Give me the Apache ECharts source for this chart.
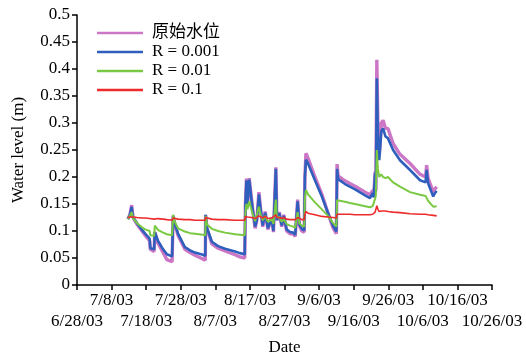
<!DOCTYPE html>
<html>
<head>
<meta charset="utf-8">
<script src="https://cdn.jsdelivr.net/npm/echarts@6/dist/echarts.min.js"></script>
<style>html,body{margin:0;padding:0;background:#fff}#c{width:526px;height:359px}</style>
</head>
<body>
<div id="c"></div>
<script>
// Days since 6/28/03
const days = [
14.7,15.3,15.8,16.2,17.3,18.8,19.7,21.0,21.2,22.3,22.5,23.4,24.9,26.0,27.5,
27.8,28.2,29.2,31.2,32.7,34.1,36.4,37.1,
37.2,37.6,39.0,40.8,42.8,45.7,47.1,48.5,
48.7,49.0,49.3,49.8,50.5,51.0,51.5,52.0,52.6,53.1,53.7,54.4,55.2,56.3,56.8,57.5,57.8,58.5,59.2,59.8,60.6,61.6,62.5,63.1,63.8,64.3,65.0,65.7,
65.9,66.2,66.8,68.8,70.8,72.6,74.0,75.0,
75.2,75.5,77.5,78.9,80.4,83.3,84.7,85.5,85.8,86.2,86.4,86.7,87.0,87.4,88.0,88.5,89.2,89.9,91.4,93.4,96.3,99.2,100.8,101.1,101.5,103.0,103.5,104.0
];
const rawLevel = [
0.122,0.130,0.148,0.125,0.113,0.100,0.092,0.082,0.066,0.062,0.098,0.078,0.060,0.047,0.043,
0.128,0.115,0.092,0.066,0.060,0.055,0.048,0.046,
0.130,0.105,0.076,0.068,0.063,0.056,0.052,0.050,
0.150,0.197,0.150,0.198,0.157,0.130,0.105,0.120,0.172,0.140,0.108,0.136,0.103,0.125,0.098,0.218,0.120,0.135,0.108,0.130,0.100,0.095,0.095,0.090,0.158,0.110,0.100,0.098,
0.200,0.244,0.235,0.200,0.168,0.133,0.106,0.095,
0.224,0.202,0.193,0.188,0.183,0.172,0.167,0.175,0.165,0.210,0.175,0.417,0.300,0.240,0.300,0.305,0.290,0.290,0.262,0.242,0.225,0.205,0.200,0.222,0.198,0.172,0.178,0.182
];
const r0001 = [
0.122,0.130,0.145,0.125,0.115,0.102,0.095,0.086,0.068,0.066,0.098,0.082,0.066,0.057,0.053,
0.128,0.115,0.095,0.070,0.064,0.060,0.056,0.054,
0.130,0.105,0.080,0.072,0.067,0.062,0.059,0.057,
0.150,0.194,0.150,0.195,0.155,0.130,0.108,0.120,0.168,0.140,0.110,0.134,0.105,0.123,0.100,0.215,0.120,0.133,0.110,0.128,0.103,0.098,0.097,0.093,0.155,0.112,0.104,0.101,
0.200,0.232,0.225,0.194,0.164,0.133,0.110,0.099,
0.215,0.196,0.187,0.182,0.177,0.166,0.161,0.170,0.162,0.207,0.172,0.383,0.280,0.231,0.285,0.290,0.275,0.272,0.250,0.231,0.213,0.194,0.190,0.213,0.189,0.164,0.170,0.174
];
const r001 = [
0.122,0.128,0.135,0.124,0.115,0.107,0.103,0.100,0.092,0.091,0.110,0.102,0.097,0.094,0.092,
0.130,0.118,0.105,0.099,0.096,0.095,0.093,0.092,
0.128,0.112,0.104,0.100,0.097,0.094,0.093,0.092,
0.135,0.150,0.140,0.155,0.138,0.127,0.118,0.120,0.145,0.130,0.120,0.128,0.117,0.122,0.113,0.158,0.125,0.126,0.117,0.122,0.113,0.110,0.108,0.106,0.135,0.114,0.110,0.108,
0.160,0.176,0.168,0.153,0.140,0.128,0.115,0.108,
0.157,0.157,0.154,0.152,0.150,0.146,0.144,0.146,0.145,0.160,0.165,0.250,0.215,0.200,0.205,0.200,0.198,0.200,0.190,0.182,0.172,0.167,0.165,0.168,0.156,0.145,0.147,0.146
];
const r01 = [
0.125,0.126,0.128,0.126,0.125,0.124,0.124,0.123,0.123,0.122,0.124,0.123,0.122,0.121,0.120,
0.124,0.122,0.122,0.121,0.121,0.120,0.120,0.120,
0.125,0.123,0.122,0.121,0.121,0.120,0.120,0.120,
0.127,0.128,0.126,0.128,0.125,0.124,0.123,0.124,0.128,0.126,0.124,0.127,0.123,0.124,0.122,0.130,0.125,0.125,0.123,0.125,0.122,0.121,0.121,0.121,0.125,0.122,0.121,0.121,
0.130,0.136,0.133,0.130,0.127,0.126,0.125,0.124,
0.131,0.131,0.131,0.131,0.130,0.130,0.130,0.131,0.131,0.135,0.137,0.147,0.140,0.136,0.137,0.136,0.137,0.136,0.135,0.134,0.132,0.131,0.131,0.132,0.130,0.129,0.129,0.128
];
const seriesNames = ['原始水位','R = 0.001','R = 0.01','R = 0.1'];
const xTickLabels = ['6/28/03','7/8/03','7/18/03','7/28/03','8/7/03','8/17/03','8/27/03','9/6/03','9/16/03','9/26/03','10/6/03','10/16/03','10/26/03'];

const font = '"Liberation Serif","Times New Roman",serif';
const cjkFont = '"Liberation Serif","Noto Sans CJK SC",serif';
const colors = ['#cc77c6','#2f5fbd','#7ac943','#ee2a2a'];
const widths = [3.4,2.6,2,1.6];
const all = [rawLevel, r0001, r001, r01];

function xLabel(parity){
  return function(v){
    const i = Math.round(v/10);
    return (i % 2 === parity) ? (xTickLabels[i] || '') : '';
  };
}
const xBase = {
  type:'value', min:0, max:120, interval:10, position:'bottom',
  splitLine:{show:false}
};

const chart = echarts.init(document.getElementById('c'), null, {renderer:'canvas'});
chart.setOption({
  animation:false,
  backgroundColor:'#fff',
  grid:{left:77,right:34,top:15,bottom:74,containLabel:false,outerBoundsMode:'none'},
  legend:{
    orient:'vertical', left:97, top:24, padding:0, icon:'rect', itemWidth:46, itemHeight:2.5, itemGap:1,
    textStyle:{fontFamily:cjkFont,fontSize:17,color:'#000',lineHeight:18,padding:[0,0,0,4]},
    data:seriesNames
  },
  xAxis:[
    Object.assign({}, xBase, {
      name:'Date', nameLocation:'middle', nameGap:54,
      nameTextStyle:{fontFamily:font,fontSize:17,color:'#000'},
      axisLine:{lineStyle:{color:'#000',width:1.5}},
      axisTick:{inside:false,length:5,lineStyle:{color:'#000',width:1.5}},
      axisLabel:{fontFamily:font,fontSize:17,color:'#000',lineHeight:20,margin:6,
        showMinLabel:true,showMaxLabel:true,formatter:xLabel(1)}
    }),
    Object.assign({}, xBase, {
      axisLine:{show:false}, axisTick:{show:false},
      axisLabel:{fontFamily:font,fontSize:17,color:'#000',lineHeight:20,margin:27,
        showMinLabel:true,showMaxLabel:true,formatter:xLabel(0)}
    })
  ],
  yAxis:{
    type:'value', min:0, max:0.5, interval:0.05,
    name:'Water level (m)', nameLocation:'middle', nameGap:50,
    nameTextStyle:{fontFamily:font,fontSize:17,color:'#000'},
    axisLine:{show:true,lineStyle:{color:'#000',width:1.5}},
    axisTick:{show:true,inside:false,length:5,lineStyle:{color:'#000',width:1.5}},
    splitLine:{show:false},
    axisLabel:{fontFamily:font,fontSize:17,color:'#000',margin:7}
  },
  series: seriesNames.map((n,k)=>({
    name:n, type:'line', showSymbol:false, symbol:'none', xAxisIndex:0,
    color:colors[k],
    lineStyle:{color:colors[k],width:widths[k]},
    data: days.map((d,i)=>[d, all[k][i]])
  }))
});
</script>
</body>
</html>
